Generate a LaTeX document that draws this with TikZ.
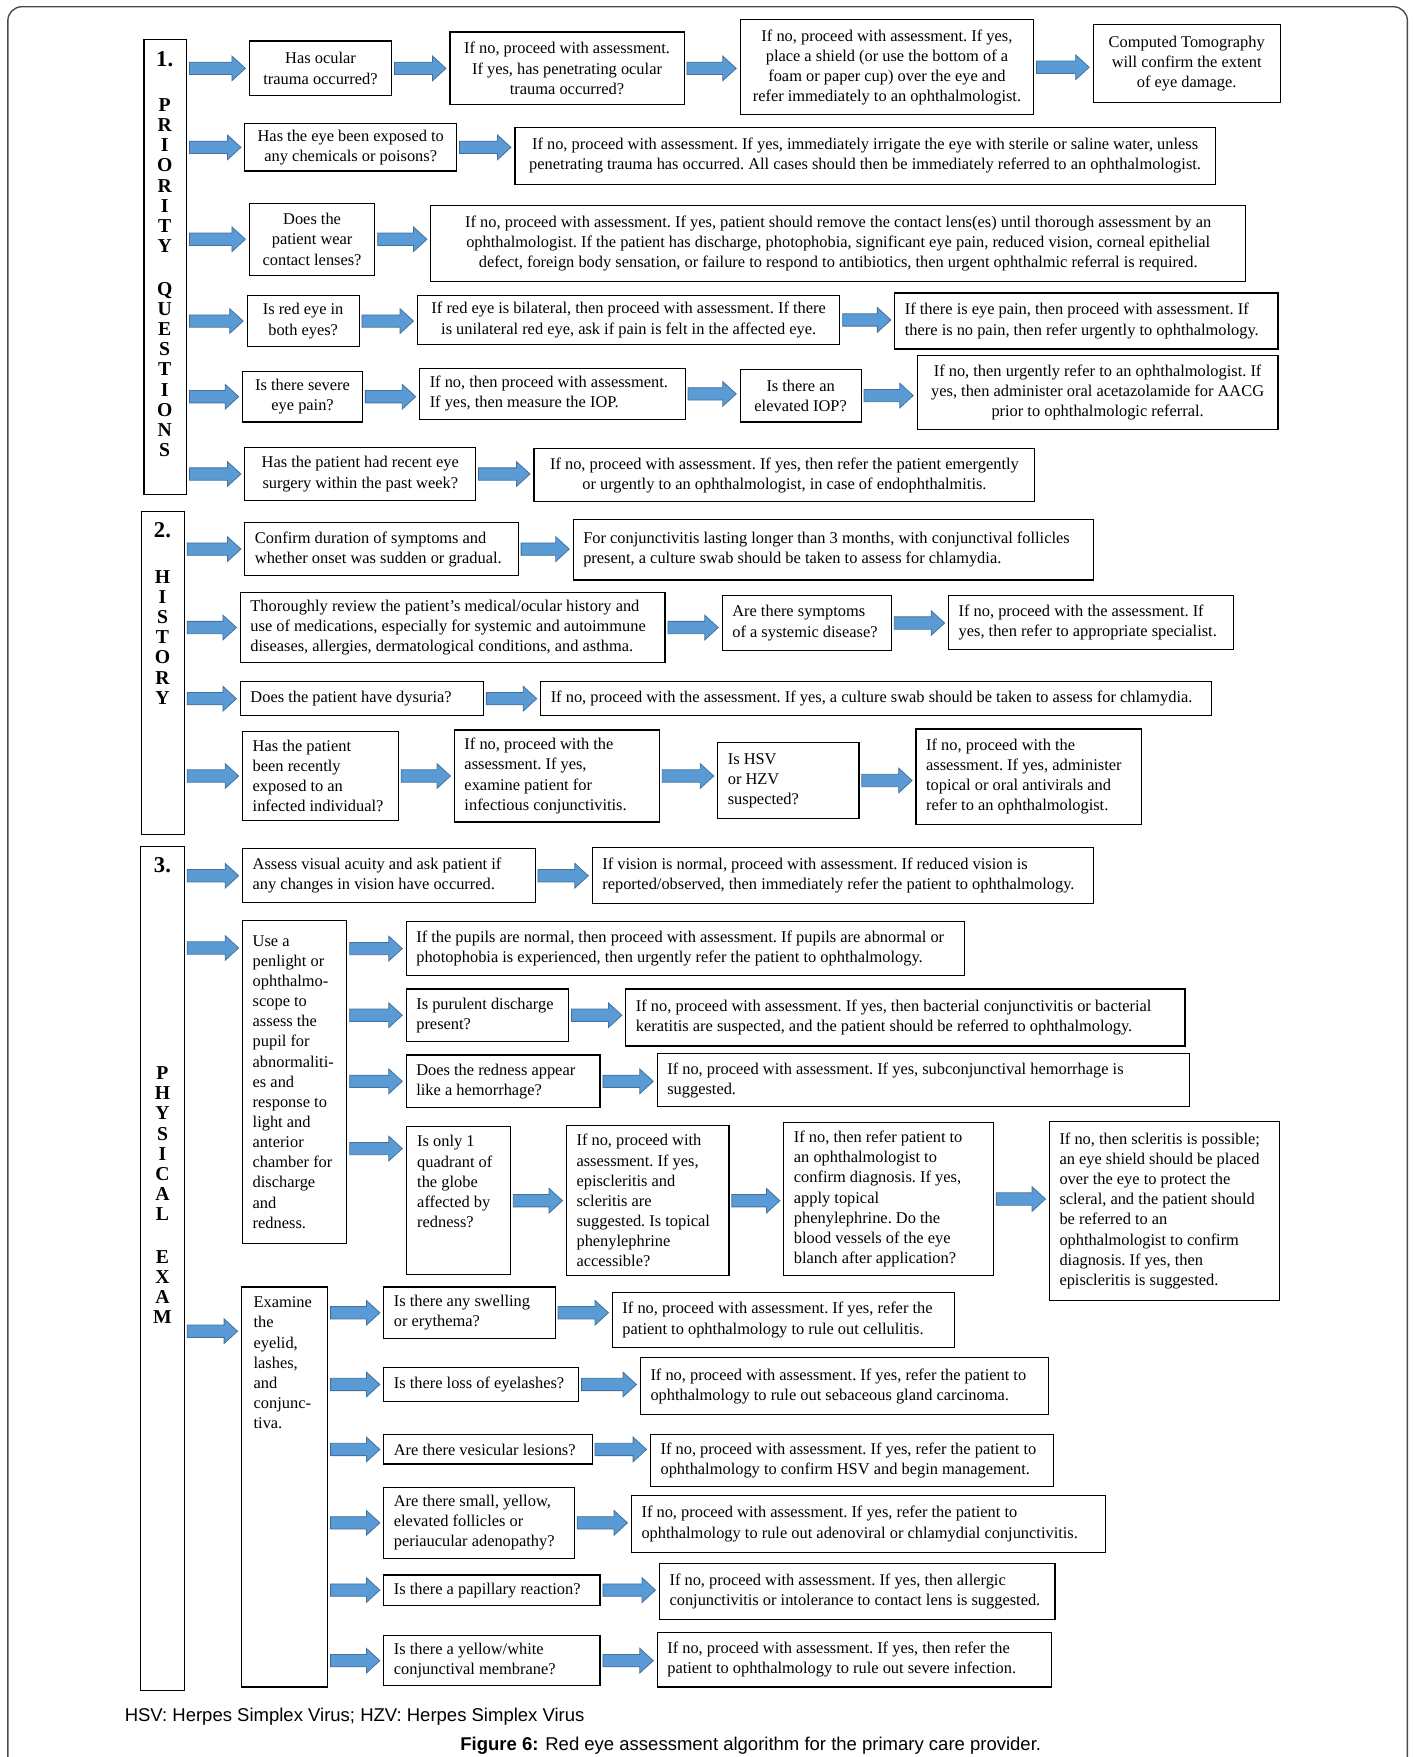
\documentclass[tikz,border=0pt]{standalone}
\usepackage{fontspec}
\setmainfont{Liberation Serif}
\newfontfamily\capfont{Liberation Sans}
\usetikzlibrary{calc}
\definecolor{arrowblue}{HTML}{5B9BD5}
\definecolor{arrowedge}{HTML}{41719C}
\definecolor{framegray}{HTML}{4A4A4A}
\newcommand{\pxunit}{0.02cm}
\tikzset{
    boxsty/.style={draw, line width=0.6pt, rectangle, anchor=north west, inner sep=0pt, align=center},
    dimsty/.style 2 args={minimum width=#1*\pxunit, minimum height=#2*\pxunit},
    lftsty/.code 2 args={\pgfmathsetlengthmacro\txtw{(#1-18)*\pxunit}%
      \pgfkeysalso{boxsty, align=flush left, dimsty={#1}{#2}, text width=\txtw}},
    secsty/.style={draw, line width=0.6pt, rectangle, anchor=north west, inner sep=0pt},
    numsty/.style={font=\fontsize{11.5}{13}\selectfont\bfseries, inner sep=0pt},
    letsty/.style={font=\bfseries, inner sep=0pt, text height=1.6ex, text depth=0pt},
    txtsty/.style={inner sep=0pt, anchor=north west, align=left},
    notesty/.style={font=\capfont\fontsize{9.4}{11}\selectfont, inner sep=0pt},
    framesty/.style={draw=framegray, line width=0.7pt, rounded corners=0.25cm},
    arrsty/.style={draw=arrowedge, fill=arrowblue, line width=0.4pt,
      to path={let \p1=(\tikztostart), \p2=(\tikztotarget) in
        (\x1+2*\pxunit,\y1+5.5*\pxunit) -- (\x2-15*\pxunit,\y1+5.5*\pxunit)
        -- (\x2-15*\pxunit,\y1+11*\pxunit) -- (\x2-3*\pxunit,\y1)
        -- (\x2-15*\pxunit,\y1-11*\pxunit) -- (\x2-15*\pxunit,\y1-5.5*\pxunit)
        -- (\x1+2*\pxunit,\y1-5.5*\pxunit) -- cycle}},
}

\begin{document}
\begin{tikzpicture}[x=\pxunit, y=-\pxunit, font=\fontsize{8.33}{10.24}\selectfont\frenchspacing]
  \useasboundingbox (0,0) rectangle (1261,1568);
  \draw[framesty] (7,6) rectangle (1256,1610);

  % 1. priority questions
  \node[secsty, dimsty={38}{406}] (s1) at (128,35) {};
  \node[numsty] (s1n) at (147,53) {1.};
  \foreach \ch [count=\i] in {P,R,I,O,R,I,T,Y}
    \node[letsty] (s1a\i) at (147,75+18*\i) {\ch};
  \foreach \ch [count=\i] in {Q,U,E,S,T,I,O,N,S}
    \node[letsty] (s1b\i) at (147,239+18*\i) {\ch};

  \node[boxsty, dimsty={127}{49}] (p1a) at (222,36) {Has ocular\\trauma occurred?};
  \node[boxsty, dimsty={209}{65}] (p1b) at (401,28) {If no, proceed with assessment.\\If yes, has penetrating ocular\\trauma occurred?};
  \node[boxsty, dimsty={262}{85}] (p1c) at (660,17) {If no, proceed with assessment. If yes,\\place a shield (or use the bottom of a\\foam or paper cup) over the eye and\\refer immediately to an ophthalmologist.};
  \node[boxsty, dimsty={167}{70}] (p1d) at (975,21) {Computed Tomography\\will confirm the extent\\of eye damage.};

  \node[boxsty, dimsty={189}{42}] (p2a) at (218,110) {Has the eye been exposed to\\any chemicals or poisons?};
  \node[boxsty, dimsty={625}{51}] (p2b) at (459,113) {If no, proceed with assessment. If yes, immediately irrigate the eye with sterile or saline water, unless\\penetrating trauma has occurred. All cases should then be immediately referred to an ophthalmologist.};

  \node[boxsty, dimsty={112}{64}] (p3a) at (222,181) {Does the\\patient wear\\contact lenses?};
  \node[boxsty, dimsty={727}{68}] (p3b) at (384,183) {If no, proceed with assessment. If yes, patient should remove the contact lens(es) until thorough assessment by an\\ophthalmologist. If the patient has discharge, photophobia, significant eye pain, reduced vision, corneal epithelial\\defect, foreign body sensation, or failure to respond to antibiotics, then urgent ophthalmic referral is required.};

  \node[boxsty, dimsty={100}{46}] (p4a) at (220,263) {Is red eye in\\both eyes?};
  \node[boxsty, dimsty={377}{44}] (p4b) at (372,263) {If red eye is bilateral, then proceed with assessment. If there\\is unilateral red eye, ask if pain is felt in the affected eye.};
  \node[lftsty={342}{50}] (p4c) at (798,261) {If there is eye pain, then proceed with assessment. If\\there is no pain, then refer urgently to ophthalmology.};

  \node[boxsty, dimsty={107}{45}] (p5a) at (216,331) {Is there severe\\eye pain?};
  \node[lftsty={237}{46}] (p5b) at (374,328) {If no, then proceed with assessment.\\If yes, then measure the IOP.};
  \node[boxsty, dimsty={108}{47}] (p5c) at (660,329) {Is there an\\elevated IOP?};
  \node[boxsty, dimsty={322}{66}] (p5d) at (818,317) {If no, then urgently refer to an ophthalmologist. If\\yes, then administer oral acetazolamide for AACG\\prior to ophthalmologic referral.};

  \node[boxsty, dimsty={206}{47}] (p6a) at (218,399) {Has the patient had recent eye\\surgery within the past week?};
  \node[boxsty, dimsty={447}{47}] (p6b) at (476,400) {If no, proceed with assessment. If yes, then refer the patient emergently\\or urgently to an ophthalmologist, in case of endophthalmitis.};

  \draw[arrsty] (s1.east |- p1a.west) to (p1a.west);
  \draw[arrsty] (p1a.east) to (p1b.west);
  \draw[arrsty] (p1b.east) to (p1c.west);
  \draw[arrsty] (p1c.east) to (p1d.west);
  \draw[arrsty] (s1.east |- p2a.west) to (p2a.west);
  \draw[arrsty] (p2a.east) to (p2b.west);
  \draw[arrsty] (s1.east |- p3a.west) to (p3a.west);
  \draw[arrsty] (p3a.east) to (p3b.west);
  \draw[arrsty] (s1.east |- p4a.west) to (p4a.west);
  \draw[arrsty] (p4a.east) to (p4b.west);
  \draw[arrsty] (p4b.east) to (p4c.west);
  \draw[arrsty] (s1.east |- p5a.west) to (p5a.west);
  \draw[arrsty] (p5a.east) to (p5b.west);
  \draw[arrsty] (p5b.east) to (p5c.west);
  \draw[arrsty] (p5c.east) to (p5d.west);
  \draw[arrsty] (s1.east |- p6a.west) to (p6a.west);
  \draw[arrsty] (p6a.east) to (p6b.west);

  % 2. history
  \node[secsty, dimsty={38}{288}] (s2) at (126,456) {};
  \node[numsty] (s2n) at (145,473) {2.};
  \foreach \ch [count=\i] in {H,I,S,T,O,R,Y}
    \node[letsty] (s2a\i) at (145,496+18*\i) {\ch};

  \node[lftsty={244}{47}] (h1a) at (218,466) {Confirm duration of symptoms and\\whether onset was sudden or gradual.};
  \node[lftsty={464}{54}] (h1b) at (511,463) {For conjunctivitis lasting longer than 3 months, with conjunctival follicles\\present, a culture swab should be taken to assess for chlamydia.};
  \node[lftsty={379}{63}] (h2a) at (214,528) {Thoroughly review the patient’s medical/ocular history and\\use of medications, especially for systemic and autoimmune\\diseases, allergies, dermatological conditions, and asthma.};
  \node[lftsty={151}{49}] (h2b) at (644,531) {Are there symptoms\\of a systemic disease?};
  \node[lftsty={254}{48}] (h2c) at (846,531) {If no, proceed with the assessment. If\\yes, then refer to appropriate specialist.};
  \node[lftsty={217}{30}] (h3a) at (214,608) {Does the patient have dysuria?};
  \node[lftsty={599}{30}] (h3b) at (482,608) {If no, proceed with the assessment. If yes, a culture swab should be taken to assess for chlamydia.};
  \node[lftsty={139}{80}] (h4a) at (216,652) {Has the patient\\been recently\\exposed to an\\infected individual?};
  \node[lftsty={183}{82}] (h4b) at (405,651) {If no, proceed with the\\assessment. If yes,\\examine patient for\\infectious conjunctivitis.};
  \node[lftsty={126}{68}] (h4c) at (640,662) {Is HSV\\or HZV\\suspected?};
  \node[lftsty={201}{85}] (h4d) at (817,650) {If no, proceed with the\\assessment. If yes, administer\\topical or oral antivirals and\\refer to an ophthalmologist.};

  \draw[arrsty] (s2.east |- h1a.west) to (h1a.west);
  \draw[arrsty] (h1a.east) to (h1b.west);
  \draw[arrsty] (s2.east |- h2a.west) to (h2a.west);
  \draw[arrsty] (h2a.east) to (h2b.west);
  \draw[arrsty] (h2b.east) to (h2c.west);
  \draw[arrsty] (s2.east |- h3a.west) to (h3a.west);
  \draw[arrsty] (h3a.east) to (h3b.west);
  \draw[arrsty] (s2.east |- h4a.west) to (h4a.west);
  \draw[arrsty] (h4a.east) to (h4b.west);
  \draw[arrsty] (h4b.east) to (h4c.west);
  \draw[arrsty] (h4c.east) to (h4d.west);

  % 3. physical exam
  \node[secsty, dimsty={39}{753}] (s3) at (125,755) {};
  \node[numsty] (s3n) at (145,772) {3.};
  \foreach \ch [count=\i] in {P,H,Y,S,I,C,A,L}
    \node[letsty] (s3a\i) at (145,939+18*\i) {\ch};
  \foreach \ch [count=\i] in {E,X,A,M}
    \node[letsty] (s3b\i) at (145,1103+18*\i) {\ch};

  \node[lftsty={261}{48}] (e1a) at (216,757) {Assess visual acuity and ask patient if\\any changes in vision have occurred.};
  \node[lftsty={447}{50}] (e1b) at (528,756) {If vision is normal, proceed with assessment. If reduced vision is\\reported/observed, then immediately refer the patient to ophthalmology.};

  \node[lftsty={93}{288}] (e2) at (216,821) {Use a\\penlight or\\ophthalmo-\\scope to\\assess the\\pupil for\\abnormaliti-\\es and\\response to\\light and\\anterior\\chamber for\\discharge\\and\\redness.};
  \node[lftsty={498}{48}] (e2a) at (362,822) {If the pupils are normal, then proceed with assessment. If pupils are abnormal or\\photophobia is experienced, then urgently refer the patient to ophthalmology.};
  \node[lftsty={145}{47}] (e2b) at (362,882) {Is purulent discharge\\present?};
  \node[lftsty={499}{51}] (e2b2) at (558,882) {If no, proceed with assessment. If yes, then bacterial conjunctivitis or bacterial\\keratitis are suspected, and the patient should be referred to ophthalmology.};
  \node[lftsty={173}{47}] (e2c) at (362,941) {Does the redness appear\\like a hemorrhage?};
  \node[lftsty={475}{47}] (e2c2) at (586,940) {If no, proceed with assessment. If yes, subconjunctival hemorrhage is\\suggested.};
  \node[lftsty={93}{132}] (e2d) at (362,1005) {};
  \node[txtsty] (e2dt) at ($(e2d.north west)+(10,8)$) {Is only 1\\quadrant of\\the globe\\affected by\\redness?};
  \node[lftsty={145}{134}] (e2d2) at (505,1004) {If no, proceed with\\assessment. If yes,\\episcleritis and\\scleritis are\\suggested. Is topical\\phenylephrine\\accessible?};
  \node[lftsty={187}{137}] (e2d3) at (699,1001) {If no, then refer patient to\\an ophthalmologist to\\confirm diagnosis. If yes,\\apply topical\\phenylephrine. Do the\\blood vessels of the eye\\blanch after application?};
  \node[lftsty={205}{160}] (e2d4) at (936,1000) {If no, then scleritis is possible;\\an eye shield should be placed\\over the eye to protect the\\scleral, and the patient should\\be referred to an\\ophthalmologist to confirm\\diagnosis. If yes, then\\episcleritis is suggested.};

  \node[lftsty={77}{357}] (e3) at (215,1148) {};
  \node[txtsty] (e3t) at ($(e3.north west)+(11,9)$) {Examine\\the\\eyelid,\\lashes,\\and\\conjunc-\\tiva.};
  \node[lftsty={153}{46}] (e3a) at (342,1148) {Is there any swelling\\or erythema?};
  \node[lftsty={305}{49}] (e3a2) at (546,1153) {If no, proceed with assessment. If yes, refer the\\patient to ophthalmology to rule out cellulitis.};
  \node[lftsty={174}{30}] (e3b) at (342,1220) {Is there loss of eyelashes?};
  \node[lftsty={364}{51}] (e3b2) at (571,1211) {If no, proceed with assessment. If yes, refer the patient to\\ophthalmology to rule out sebaceous gland carcinoma.};
  \node[lftsty={186}{26}] (e3c) at (342,1280) {Are there vesicular lesions?};
  \node[lftsty={360}{46}] (e3c2) at (580,1280) {If no, proceed with assessment. If yes, refer the patient to\\ophthalmology to confirm HSV and begin management.};
  \node[lftsty={170}{63}] (e3d) at (342,1327) {Are there small, yellow,\\elevated follicles or\\periaucular adenopathy?};
  \node[lftsty={423}{51}] (e3d2) at (563,1334) {If no, proceed with assessment. If yes, refer the patient to\\ophthalmology to rule out adenoviral or chlamydial conjunctivitis.};
  \node[lftsty={193}{27}] (e3e) at (342,1405) {Is there a papillary reaction?};
  \node[lftsty={353}{50}] (e3e2) at (588,1395) {If no, proceed with assessment. If yes, then allergic\\conjunctivitis or intolerance to contact lens is suggested.};
  \node[lftsty={193}{45}] (e3f) at (342,1459) {Is there a yellow/white\\conjunctival membrane?};
  \node[lftsty={352}{49}] (e3f2) at (586,1456) {If no, proceed with assessment. If yes, then refer the\\patient to ophthalmology to rule out severe infection.};

  \draw[arrsty] (s3.east |- e1a.west) to (e1a.west);
  \draw[arrsty] (e1a.east) to (e1b.west);
  \draw[arrsty] ($(s3.east |- e2.north)+(0,25)$) to (e2.west);
  \draw[arrsty] (e2.east |- e2a.west) to (e2a.west);
  \draw[arrsty] (e2.east |- e2b.west) to (e2b.west);
  \draw[arrsty] (e2b.east) to (e2b2.west);
  \draw[arrsty] (e2.east |- e2c.west) to (e2c.west);
  \draw[arrsty] (e2c.east) to (e2c2.west);
  \draw[arrsty] ($(e2.east |- e2d.north)+(0,20)$) to (e2d.west);
  \draw[arrsty] (e2d.east) to (e2d2.west);
  \draw[arrsty] (e2d2.east) to (e2d3.west);
  \draw[arrsty] (e2d3.east) to (e2d4.west);
  \draw[arrsty] ($(s3.east |- e3.north)+(0,40)$) to (e3.west);
  \draw[arrsty] (e3.east |- e3a.west) to (e3a.west);
  \draw[arrsty] (e3a.east) to (e3a2.west);
  \draw[arrsty] (e3.east |- e3b.west) to (e3b.west);
  \draw[arrsty] (e3b.east) to (e3b2.west);
  \draw[arrsty] (e3.east |- e3c.west) to (e3c.west);
  \draw[arrsty] (e3c.east) to (e3c2.west);
  \draw[arrsty] (e3.east |- e3d.west) to (e3d.west);
  \draw[arrsty] (e3d.east) to (e3d2.west);
  \draw[arrsty] (e3.east |- e3e.west) to (e3e.west);
  \draw[arrsty] (e3e.east) to (e3e2.west);
  \draw[arrsty] (e3.east |- e3f.west) to (e3f.west);
  \draw[arrsty] (e3f.east) to (e3f2.west);

  \node[notesty, anchor=west] (abbr) at (111,1532) {HSV: Herpes Simplex Virus; HZV: Herpes Simplex Virus};
  \node[notesty] (capt) at (670,1558) {\textbf{Figure 6:} Red eye assessment algorithm for the primary care provider.};
\end{tikzpicture}
\end{document}
